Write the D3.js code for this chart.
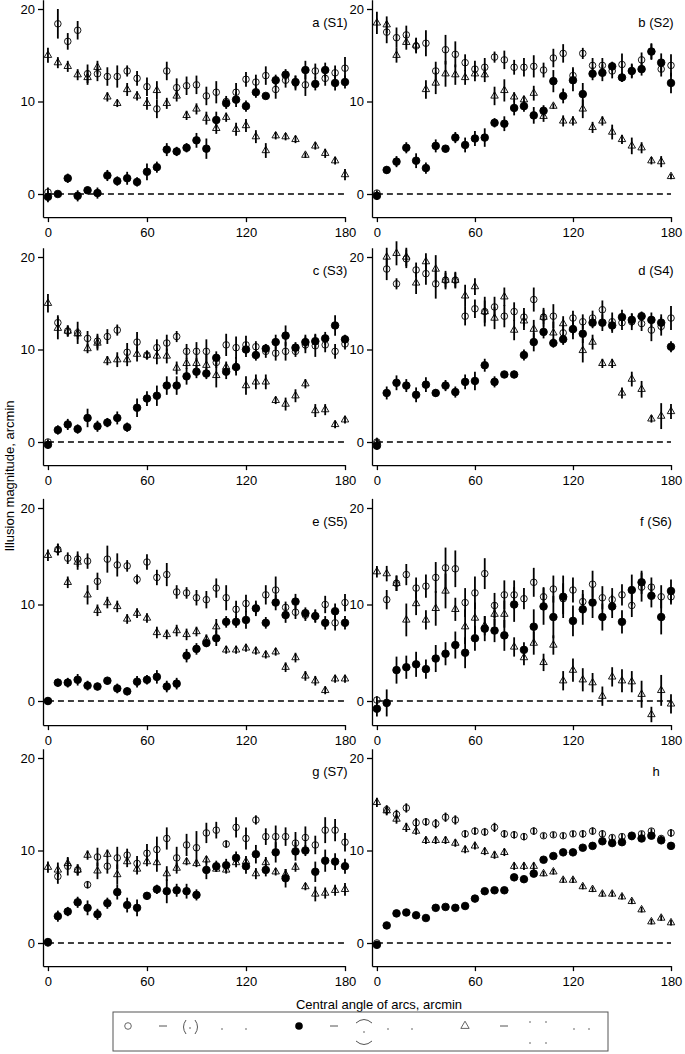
<!DOCTYPE html>
<html>
<head>
<meta charset="utf-8">
<script src="https://cdn.jsdelivr.net/npm/d3@7"></script>
<style>
  body { margin: 0; background: #fff; }
  svg text { font-family: "Liberation Sans", Arial, sans-serif; }
</style>
</head>
<body>
<div id="chart"></div>
<script>
// central angle of arcs (arcmin)
const angles = [0, 6, 12, 18, 24, 30, 36, 42, 48, 54, 60, 66, 72, 78, 84, 90, 96, 102, 108, 114, 120, 126, 132, 138, 144, 150, 156, 162, 168, 174, 180];
const panelLabels = ['a (S1)', 'b (S2)', 'c (S3)', 'd (S4)', 'e (S5)', 'f (S6)', 'g (S7)', 'h'];
const yTicks = [0, 10, 20];
const xTicks = [0, 60, 120, 180];

// S1
const s1Open = [0.2, 18.4, 16.5, 17.7, 13.0, 13.0, 12.7, 12.7, 13.3, 12.5, 11.6, 9.2, 13.3, 11.5, 11.7, 11.8, 10.6, 11.0, 10.0, 11.0, 12.4, 12.1, 12.8, 11.3, 12.3, 12.0, 11.8, 13.3, 12.5, 13.1, 13.6];
const s1OpenErr = [0.5, 1.6, 0.9, 1.0, 1.0, 0.8, 1.0, 1.2, 0.6, 0.8, 1.0, 1.0, 1.0, 1.0, 1.0, 1.0, 1.0, 1.2, 0.6, 1.0, 0.8, 0.8, 1.0, 1.0, 0.8, 0.8, 1.2, 0.8, 0.8, 0.8, 1.2];
const s1Filled = [-0.3, 0.0, 1.7, -0.2, 0.4, 0.1, 2.0, 1.4, 1.7, 1.3, 2.4, 2.9, 4.8, 4.6, 5.0, 5.8, 4.9, 8.0, 9.8, 10.2, 9.5, 11.0, 10.6, 12.3, 12.9, 12.1, 13.4, 11.9, 13.4, 12.0, 12.1];
const s1FilledErr = [0.6, 0.3, 0.5, 0.6, 0.4, 0.6, 0.6, 0.5, 0.7, 0.5, 0.9, 0.6, 0.7, 0.5, 0.5, 0.8, 1.1, 0.9, 0.6, 0.8, 0.6, 0.6, 0.3, 0.6, 0.6, 0.7, 1.0, 0.7, 0.8, 0.8, 0.7];
const s1Tri = [15.0, 14.2, 13.8, 12.9, 12.6, 13.7, 10.5, 9.8, 11.3, 10.6, 9.8, 11.2, 9.8, 10.6, 8.5, 9.2, 8.2, 7.1, 8.3, 7.0, 7.4, 6.2, 4.7, 6.3, 6.2, 5.9, 4.2, 5.2, 4.4, 3.6, 2.1];
const s1TriErr = [0.8, 0.6, 0.6, 0.6, 0.8, 0.7, 0.5, 0.4, 0.7, 0.5, 0.7, 1.0, 0.6, 0.6, 0.5, 0.6, 0.7, 0.6, 0.5, 0.7, 0.7, 0.7, 0.8, 0.4, 0.4, 0.4, 0.3, 0.4, 0.5, 0.4, 0.6];

// S2
const s2Open = [0.1, 17.5, 16.9, 17.2, 16.0, 16.3, 13.3, 15.6, 15.1, 14.2, 13.5, 13.7, 14.8, 14.5, 13.7, 13.7, 13.8, 13.4, 14.7, 15.2, 12.8, 15.2, 13.9, 13.9, 13.3, 14.0, 13.3, 14.5, 15.4, 13.5, 13.9];
const s2OpenErr = [0.3, 1.2, 1.1, 1.0, 0.8, 1.4, 1.0, 1.6, 1.4, 0.9, 0.9, 1.0, 0.6, 1.0, 0.8, 1.0, 1.2, 0.8, 1.0, 1.0, 0.9, 0.6, 0.8, 0.8, 0.8, 1.2, 0.8, 0.8, 0.8, 0.8, 1.2];
const s2Filled = [-0.2, 2.6, 3.5, 5.0, 3.6, 2.8, 5.2, 4.9, 6.1, 5.3, 6.0, 6.1, 7.7, 7.6, 9.3, 9.5, 8.5, 9.0, 12.2, 10.6, 12.3, 10.8, 13.0, 13.1, 13.8, 12.6, 13.3, 13.5, 15.4, 14.2, 12.0];
const s2FilledErr = [0.4, 0.4, 0.6, 0.6, 0.8, 0.6, 0.7, 0.4, 0.6, 0.8, 0.8, 1.0, 0.5, 0.8, 0.8, 0.6, 0.9, 0.6, 1.2, 0.8, 1.2, 1.2, 0.7, 0.9, 0.5, 0.5, 0.7, 0.7, 0.9, 1.0, 1.1];
const s2Tri = [18.5, 18.3, 15.0, 16.4, 16.1, 11.3, 12.0, 13.0, 12.9, 12.6, 13.0, 12.9, 10.6, 11.2, 10.5, 10.2, 10.9, 8.4, 9.5, 7.9, 7.9, 9.2, 7.2, 7.9, 6.7, 5.9, 5.2, 5.0, 3.6, 3.5, 1.9];
const s2TriErr = [1.2, 0.9, 0.8, 0.8, 0.8, 1.0, 1.2, 1.4, 1.1, 0.8, 0.8, 0.8, 1.0, 1.2, 0.5, 0.4, 0.8, 0.6, 0.3, 0.6, 0.5, 1.0, 0.6, 0.5, 0.8, 0.5, 0.9, 0.6, 0.4, 0.6, 0.3];

// S3
const s3Open = [0.0, 12.9, 12.0, 11.8, 11.2, 10.9, 11.4, 12.1, 9.7, 10.8, 9.4, 10.2, 10.7, 11.4, 9.8, 9.8, 9.8, 8.6, 10.5, 10.2, 10.5, 10.3, 9.8, 9.6, 9.8, 9.8, 10.5, 10.4, 10.5, 9.8, 10.6];
const s3OpenErr = [0.3, 0.8, 0.6, 1.2, 0.8, 0.8, 0.8, 0.6, 1.0, 1.1, 0.4, 0.9, 0.9, 0.6, 0.8, 1.0, 1.3, 0.6, 1.2, 1.2, 1.0, 0.6, 0.7, 0.8, 1.0, 0.6, 0.9, 1.2, 0.8, 0.8, 0.6];
const s3Filled = [-0.3, 1.3, 1.9, 1.4, 2.6, 1.7, 2.1, 2.6, 1.6, 3.7, 4.7, 5.0, 6.1, 6.1, 7.1, 7.6, 7.4, 9.1, 7.6, 8.1, 10.0, 9.4, 10.1, 10.8, 11.5, 10.2, 10.8, 10.9, 11.2, 12.6, 11.1];
const s3FilledErr = [0.4, 0.5, 0.6, 0.5, 1.0, 0.6, 0.5, 0.7, 0.5, 1.0, 0.8, 1.1, 1.0, 1.0, 0.9, 0.7, 0.6, 0.7, 0.8, 0.6, 0.8, 0.6, 0.5, 0.8, 1.1, 0.6, 0.8, 0.8, 0.7, 1.1, 0.5];
const s3Tri = [15.0, 12.3, 12.0, 11.7, 10.1, 10.7, 8.8, 8.9, 8.9, 9.5, 9.4, 9.3, 9.3, 8.0, 8.5, 8.5, 8.3, 7.2, 8.1, 8.2, 6.1, 6.5, 6.5, 4.5, 4.1, 5.0, 6.3, 3.4, 3.5, 1.9, 2.4];
const s3TriErr = [1.0, 1.2, 0.6, 0.6, 0.5, 0.8, 0.5, 0.8, 0.7, 0.8, 0.5, 0.9, 0.8, 0.7, 0.6, 0.6, 1.2, 1.3, 0.6, 1.0, 1.0, 0.8, 0.8, 0.4, 0.7, 0.7, 0.5, 0.7, 0.6, 0.4, 0.4];

// S4
const s4Open = [0.0, 18.7, 17.1, 19.8, 18.6, 18.2, 17.1, 17.5, 17.5, 13.6, 14.4, 14.1, 14.6, 13.6, 14.1, 13.5, 15.4, 13.5, 13.6, 11.8, 13.4, 13.0, 13.4, 14.3, 13.0, 12.9, 13.0, 12.8, 12.1, 12.5, 13.4];
const s4OpenErr = [0.3, 1.2, 0.6, 1.0, 0.8, 1.2, 1.6, 0.8, 0.8, 1.0, 1.0, 1.6, 1.1, 1.2, 1.0, 1.0, 1.3, 0.8, 1.3, 0.9, 0.8, 0.8, 0.8, 1.0, 1.0, 0.8, 0.9, 0.8, 1.2, 1.0, 1.3];
const s4Filled = [-0.4, 5.3, 6.4, 6.1, 5.1, 6.2, 5.3, 6.1, 5.4, 6.5, 6.6, 8.3, 6.5, 7.3, 7.3, 9.4, 10.8, 11.9, 10.7, 11.1, 12.2, 11.7, 12.9, 12.9, 12.6, 13.5, 13.2, 13.6, 13.2, 12.9, 10.3];
const s4FilledErr = [0.4, 0.7, 0.8, 0.7, 0.8, 0.8, 0.4, 0.6, 0.6, 0.8, 1.0, 0.7, 0.6, 0.3, 0.4, 0.6, 1.0, 0.7, 0.5, 0.6, 0.6, 1.0, 0.6, 0.9, 0.8, 0.8, 0.7, 0.5, 0.8, 0.9, 0.6];
const s4Tri = [0.0, 20.0, 20.4, 20.0, 17.2, 19.5, 18.7, 17.5, 17.5, 15.8, 16.8, 14.1, 13.4, 15.7, 12.1, 13.1, 12.2, 13.5, 11.8, 12.8, 12.3, 9.9, 10.8, 8.5, 8.5, 5.3, 6.8, 5.7, 2.5, 2.8, 3.3];
const s4TriErr = [0.3, 1.0, 1.3, 1.0, 1.2, 0.9, 1.5, 1.0, 0.9, 1.2, 0.9, 1.2, 1.2, 1.0, 1.1, 1.0, 1.0, 1.0, 1.2, 0.8, 1.2, 1.3, 0.8, 0.5, 0.5, 0.6, 0.8, 0.9, 0.4, 1.4, 0.8];

// S5
const s5Open = [0.0, 15.7, 14.8, 14.7, 14.5, 12.4, 14.7, 14.1, 14.0, 12.6, 14.4, 12.8, 13.1, 11.3, 11.2, 10.7, 10.5, 11.7, 10.7, 9.5, 10.1, 9.6, 11.0, 11.5, 9.7, 9.2, 8.9, 8.8, 10.0, 8.1, 10.2];
const s5OpenErr = [0.3, 0.6, 0.6, 0.8, 0.8, 0.9, 1.4, 1.2, 0.6, 0.5, 0.8, 0.8, 1.2, 0.7, 0.6, 0.8, 0.9, 1.0, 1.3, 0.9, 0.9, 0.8, 1.0, 1.4, 0.6, 0.7, 0.6, 0.6, 0.9, 0.8, 0.9];
const s5Filled = [0.0, 1.9, 1.9, 2.2, 1.6, 1.5, 2.1, 1.3, 1.0, 2.0, 2.2, 2.5, 1.5, 1.8, 4.7, 5.4, 6.0, 6.5, 8.2, 8.2, 8.4, 9.6, 8.1, 10.2, 8.9, 10.3, 9.1, 8.8, 8.1, 9.3, 8.1];
const s5FilledErr = [0.3, 0.4, 0.5, 0.6, 0.5, 0.4, 0.4, 0.5, 0.4, 0.6, 0.5, 0.7, 0.6, 0.6, 0.7, 0.6, 0.4, 0.8, 0.6, 0.6, 0.9, 0.6, 0.6, 0.8, 0.8, 0.8, 0.6, 0.7, 0.7, 0.8, 0.7];
const s5Tri = [15.1, 15.7, 12.3, 14.4, 11.0, 9.4, 10.2, 9.8, 8.5, 9.1, 8.6, 7.1, 6.9, 7.3, 6.9, 7.2, 6.4, 7.7, 5.3, 5.3, 5.5, 5.2, 4.8, 5.1, 3.5, 4.5, 2.6, 2.1, 1.1, 2.3, 2.3];
const s5TriErr = [0.6, 0.6, 0.6, 0.8, 1.0, 0.6, 0.6, 0.6, 0.5, 0.5, 0.5, 0.6, 0.5, 0.6, 0.6, 0.5, 0.5, 0.8, 0.4, 0.4, 0.4, 0.4, 0.4, 0.4, 0.5, 0.5, 0.5, 0.5, 0.4, 0.4, 0.4];

// S6
const s6Open = [0.1, 10.5, 12.2, 13.1, 11.7, 11.9, 12.8, 13.8, 13.7, 10.2, 11.2, 13.2, 9.9, 11.0, 11.0, 10.6, 12.3, 10.8, 11.6, 10.6, 11.5, 10.3, 12.1, 10.7, 10.5, 11.0, 9.9, 11.8, 11.8, 10.8, 10.8];
const s6OpenErr = [0.4, 1.0, 0.8, 1.1, 1.1, 1.2, 1.6, 2.1, 1.9, 1.5, 1.7, 1.6, 1.3, 1.5, 1.5, 1.1, 1.5, 1.0, 1.4, 1.6, 1.3, 1.2, 1.4, 1.2, 1.2, 1.1, 1.2, 1.5, 1.0, 1.2, 0.8];
const s6Filled = [-0.8, -0.2, 3.2, 3.5, 3.8, 3.3, 4.4, 4.9, 5.8, 5.0, 6.5, 7.5, 7.3, 6.8, 10.0, 5.3, 7.7, 9.8, 8.7, 10.8, 8.3, 9.5, 10.2, 8.7, 9.8, 8.2, 11.5, 12.3, 10.9, 8.7, 11.4];
const s6FilledErr = [0.8, 1.4, 1.4, 1.2, 1.3, 1.0, 1.4, 1.2, 1.4, 1.6, 1.3, 1.3, 1.2, 1.6, 1.8, 0.8, 1.8, 1.9, 2.2, 2.2, 1.6, 1.6, 1.6, 1.4, 1.2, 1.2, 1.6, 1.2, 1.2, 1.8, 1.2];
const s6Tri = [13.4, 13.2, 12.2, 8.4, 10.1, 8.4, 9.6, 11.4, 9.5, 7.7, 8.6, 7.8, 9.0, 9.0, 5.6, 4.5, 6.0, 4.0, 5.8, 2.1, 3.2, 2.2, 1.9, 0.5, 2.5, 2.1, 2.0, 0.7, -1.4, 1.1, -0.3];
const s6TriErr = [0.6, 0.8, 0.8, 1.7, 1.2, 1.0, 1.8, 1.8, 1.2, 1.8, 1.6, 1.0, 1.2, 1.4, 1.0, 0.8, 1.2, 0.9, 1.0, 1.0, 1.2, 1.2, 1.0, 1.0, 1.0, 1.2, 1.1, 1.4, 0.8, 1.6, 1.0];

// S7
const s7Open = [0.0, 7.2, 8.3, 7.9, 6.3, 9.3, 8.3, 9.2, 9.5, 8.6, 9.7, 10.1, 11.3, 9.2, 10.6, 10.3, 11.9, 12.2, 10.7, 12.5, 11.3, 13.3, 11.5, 11.5, 11.5, 10.8, 11.4, 10.6, 12.2, 12.2, 10.9];
const s7OpenErr = [0.3, 0.8, 1.0, 0.6, 0.4, 1.0, 0.8, 1.2, 0.7, 0.8, 1.0, 1.4, 1.2, 1.2, 1.2, 1.8, 1.1, 0.9, 0.4, 1.1, 1.2, 0.5, 0.9, 1.2, 1.0, 1.2, 1.2, 1.0, 1.4, 1.2, 1.0];
const s7Filled = [0.1, 2.9, 3.4, 4.4, 3.8, 3.1, 4.3, 5.5, 4.1, 3.8, 5.1, 5.8, 5.6, 5.7, 5.6, 5.2, 7.9, 8.3, 8.4, 9.2, 8.3, 9.6, 7.9, 9.8, 7.0, 9.9, 10.0, 7.7, 8.9, 8.8, 8.3];
const s7FilledErr = [0.4, 0.6, 0.5, 0.6, 0.8, 0.6, 0.6, 0.8, 0.8, 0.9, 0.4, 0.5, 1.3, 0.7, 0.8, 0.6, 1.0, 0.6, 0.7, 0.7, 0.8, 1.0, 0.7, 1.1, 1.0, 1.0, 0.6, 1.1, 1.2, 0.9, 0.8];
const s7Tri = [8.2, 7.9, 8.6, 7.9, 9.5, 7.8, 9.6, 7.4, 8.8, 8.0, 8.8, 8.7, 7.5, 8.1, 8.8, 8.6, 9.0, 8.0, 7.9, 8.7, 8.8, 7.5, 8.7, 7.7, 7.4, 8.2, 6.1, 5.3, 5.4, 5.7, 5.8];
const s7TriErr = [0.6, 0.8, 0.6, 0.6, 0.5, 0.9, 0.5, 1.1, 0.6, 0.6, 0.5, 1.0, 0.8, 0.6, 0.4, 0.4, 0.4, 0.3, 0.4, 0.5, 0.6, 0.6, 0.6, 0.4, 0.6, 0.5, 0.4, 0.8, 0.6, 0.6, 0.7];

// mean
const hOpen = [0.0, 14.4, 13.9, 14.6, 13.0, 13.1, 12.9, 13.6, 13.3, 11.8, 12.1, 12.0, 12.5, 11.8, 11.7, 11.5, 12.1, 11.6, 11.7, 11.6, 11.8, 11.8, 12.1, 11.8, 11.4, 11.5, 11.5, 11.8, 12.1, 11.3, 11.9];
const hOpenErr = [0.2, 0.5, 0.5, 0.5, 0.5, 0.4, 0.5, 0.5, 0.5, 0.4, 0.4, 0.4, 0.5, 0.4, 0.4, 0.4, 0.4, 0.3, 0.3, 0.3, 0.3, 0.4, 0.4, 0.4, 0.3, 0.3, 0.3, 0.3, 0.3, 0.3, 0.4];
const hFilled = [-0.2, 1.9, 3.2, 3.3, 3.0, 2.7, 3.8, 3.9, 3.8, 4.0, 4.8, 5.6, 5.7, 5.7, 7.1, 6.9, 7.5, 9.0, 9.4, 9.8, 9.8, 10.3, 10.5, 11.0, 10.8, 10.9, 11.6, 11.3, 11.6, 11.1, 10.5];
const hFilledErr = [0.2, 0.2, 0.2, 0.2, 0.2, 0.2, 0.2, 0.2, 0.2, 0.2, 0.2, 0.2, 0.2, 0.2, 0.2, 0.2, 0.2, 0.2, 0.2, 0.2, 0.2, 0.2, 0.2, 0.2, 0.3, 0.3, 0.3, 0.3, 0.3, 0.3, 0.3];
const hTri = [15.2, 14.3, 13.4, 12.5, 12.1, 11.1, 11.1, 11.1, 10.8, 10.1, 10.5, 9.9, 9.5, 9.8, 8.3, 8.3, 8.3, 7.5, 7.7, 6.8, 6.8, 6.1, 5.8, 5.3, 5.3, 5.0, 4.5, 3.6, 2.3, 2.7, 2.2];
const hTriErr = [0.5, 0.5, 0.5, 0.5, 0.4, 0.4, 0.4, 0.4, 0.4, 0.4, 0.4, 0.4, 0.4, 0.4, 0.4, 0.4, 0.4, 0.3, 0.3, 0.3, 0.3, 0.3, 0.3, 0.3, 0.3, 0.3, 0.3, 0.3, 0.3, 0.3, 0.3];

const panels = [
  { open: s1Open, openErr: s1OpenErr, filled: s1Filled, filledErr: s1FilledErr, tri: s1Tri, triErr: s1TriErr },
  { open: s2Open, openErr: s2OpenErr, filled: s2Filled, filledErr: s2FilledErr, tri: s2Tri, triErr: s2TriErr },
  { open: s3Open, openErr: s3OpenErr, filled: s3Filled, filledErr: s3FilledErr, tri: s3Tri, triErr: s3TriErr },
  { open: s4Open, openErr: s4OpenErr, filled: s4Filled, filledErr: s4FilledErr, tri: s4Tri, triErr: s4TriErr },
  { open: s5Open, openErr: s5OpenErr, filled: s5Filled, filledErr: s5FilledErr, tri: s5Tri, triErr: s5TriErr },
  { open: s6Open, openErr: s6OpenErr, filled: s6Filled, filledErr: s6FilledErr, tri: s6Tri, triErr: s6TriErr },
  { open: s7Open, openErr: s7OpenErr, filled: s7Filled, filledErr: s7FilledErr, tri: s7Tri, triErr: s7TriErr },
  { open: hOpen, openErr: hOpenErr, filled: hFilled, filledErr: hFilledErr, tri: hTri, triErr: hTriErr }
];

// layout
const width = 685, height = 1054;
const colRange = [[43, 345], [372, 671]];   // y-axis line .. x=180
const rowY20 = [9, 257, 508, 758];           // pixel of y=20
const rowY0 = [194, 442, 701, 943];          // pixel of y=0

const svg = d3.select('#chart').append('svg')
  .attr('width', width).attr('height', height);

function toPoints(vals, errs) {
  return angles.map((a, i) => ({ x: a, y: vals[i], e: errs[i] }));
}

panels.forEach((p, i) => {
  const col = i % 2, row = Math.floor(i / 2);
  const ppu = (rowY0[row] - rowY20[row]) / 20;
  const x = d3.scaleLinear().domain([-3, 180]).range(colRange[col]);
  const y = d3.scaleLinear().domain([-2.5, 21])
    .range([rowY0[row] + 2.5 * ppu, rowY20[row] - 1 * ppu]);

  const g = svg.append('g').attr('class', 'panel');

  // axes
  const yAxis = d3.axisLeft(y).tickValues(yTicks).tickSize(5).tickPadding(3).tickSizeOuter(0);
  const xAxis = d3.axisBottom(x).tickValues(xTicks).tickSize(5).tickPadding(6).tickSizeOuter(0);
  const yg = g.append('g').attr('transform', `translate(${colRange[col][0]},0)`).call(yAxis);
  const xg = g.append('g').attr('transform', `translate(0,${y.range()[0]})`).call(xAxis);
  [yg, xg].forEach(ax => {
    ax.selectAll('path, line').attr('stroke', '#000').attr('stroke-width', 1.3);
    ax.selectAll('text').attr('fill', '#000').style('font-size', '13px')
      .style('font-family', '"Liberation Sans", Arial, sans-serif');
  });

  // zero line
  g.append('line')
    .attr('x1', x(0)).attr('x2', x(180))
    .attr('y1', y(0)).attr('y2', y(0))
    .attr('stroke', '#000').attr('stroke-width', 1.3)
    .attr('stroke-dasharray', '6,4');

  // panel label
  g.append('text')
    .attr('x', x(180) - 15).attr('y', rowY20[row] + 17.5)
    .attr('text-anchor', 'middle').style('font-size', '13px')
    .text(panelLabels[i]);

  const series = [
    { pts: toPoints(p.tri, p.triErr), kind: 'tri' },
    { pts: toPoints(p.open, p.openErr), kind: 'open' },
    { pts: toPoints(p.filled, p.filledErr), kind: 'filled' }
  ];

  series.forEach(s => {
    const sg = g.append('g');
    if (s.kind === 'tri') {
      sg.selectAll('path').data(s.pts).enter().append('path')
        .attr('d', d3.symbol().type(d3.symbolTriangle).size(24))
        .attr('transform', d => `translate(${x(d.x)},${y(d.y)})`)
        .attr('fill', 'none').attr('stroke', '#000').attr('stroke-width', 0.9);
    } else {
      sg.selectAll('circle').data(s.pts).enter().append('circle')
        .attr('cx', d => x(d.x)).attr('cy', d => y(d.y))
        .attr('r', s.kind === 'filled' ? 3.8 : 3.3)
        .attr('fill', s.kind === 'filled' ? '#000' : 'none')
        .attr('stroke', '#000').attr('stroke-width', 0.9);
    }
    sg.selectAll('line.err').data(s.pts).enter().append('line')
      .attr('class', 'err')
      .attr('x1', d => x(d.x)).attr('x2', d => x(d.x))
      .attr('y1', d => y(d.y - d.e)).attr('y2', d => y(d.y + d.e))
      .attr('stroke', '#000').attr('stroke-width', 1.8);
  });
});

// axis titles
svg.append('text')
  .attr('transform', 'translate(9,476) rotate(-90)')
  .attr('text-anchor', 'middle').attr('dy', '0.35em')
  .style('font-size', '13px')
  .text('Illusion magnitude, arcmin');

svg.append('text')
  .attr('x', 379).attr('y', 1009)
  .attr('text-anchor', 'middle')
  .style('font-size', '13px')
  .text('Central angle of arcs, arcmin');

// legend (stimulus icons)
const lg = svg.append('g').attr('class', 'legend');
lg.append('rect').attr('x', 113).attr('y', 1012).attr('width', 495).attr('height', 39)
  .attr('fill', 'none').attr('stroke', '#555').attr('stroke-width', 1);
const grey = '#555';
const ly = 1026;
function dash(cx) {
  lg.append('line').attr('x1', cx - 4).attr('x2', cx + 4).attr('y1', ly).attr('y2', ly)
    .attr('stroke', grey).attr('stroke-width', 1);
}
function dot(cx, cy) {
  lg.append('circle').attr('cx', cx).attr('cy', cy).attr('r', 0.8).attr('fill', grey);
}
// group 1: open circle
lg.append('circle').attr('cx', 128).attr('cy', ly).attr('r', 3.3)
  .attr('fill', 'none').attr('stroke', grey).attr('stroke-width', 0.9);
dash(163);
lg.append('path').attr('d', `M186,${ly - 6} Q181,${ly + 1} 186,${ly + 8}`)
  .attr('fill', 'none').attr('stroke', grey).attr('stroke-width', 1);
dot(190, ly + 2);
lg.append('path').attr('d', `M195,${ly - 6} Q200,${ly + 1} 195,${ly + 8}`)
  .attr('fill', 'none').attr('stroke', grey).attr('stroke-width', 1);
dot(222, ly + 3); dot(246, ly + 3);
// group 2: filled circle
lg.append('circle').attr('cx', 299).attr('cy', ly).attr('r', 3.8).attr('fill', '#000');
dash(334);
lg.append('path').attr('d', `M356,${ly - 3} Q364,${ly - 10} 372,${ly - 3}`)
  .attr('fill', 'none').attr('stroke', grey).attr('stroke-width', 1);
dot(364, ly + 6);
lg.append('path').attr('d', `M356,${ly + 15} Q364,${ly + 22} 372,${ly + 15}`)
  .attr('fill', 'none').attr('stroke', grey).attr('stroke-width', 1);
dot(388, ly + 3); dot(412, ly + 3);
// group 3: triangle
lg.append('path').attr('d', d3.symbol().type(d3.symbolTriangle).size(30))
  .attr('transform', `translate(465,${ly})`)
  .attr('fill', 'none').attr('stroke', grey).attr('stroke-width', 0.9);
dash(504);
dot(530, ly - 4); dot(546, ly - 4); dot(530, ly + 17); dot(546, ly + 17);
dot(574, ly + 3); dot(589, ly + 3);
</script>
</body>
</html>
